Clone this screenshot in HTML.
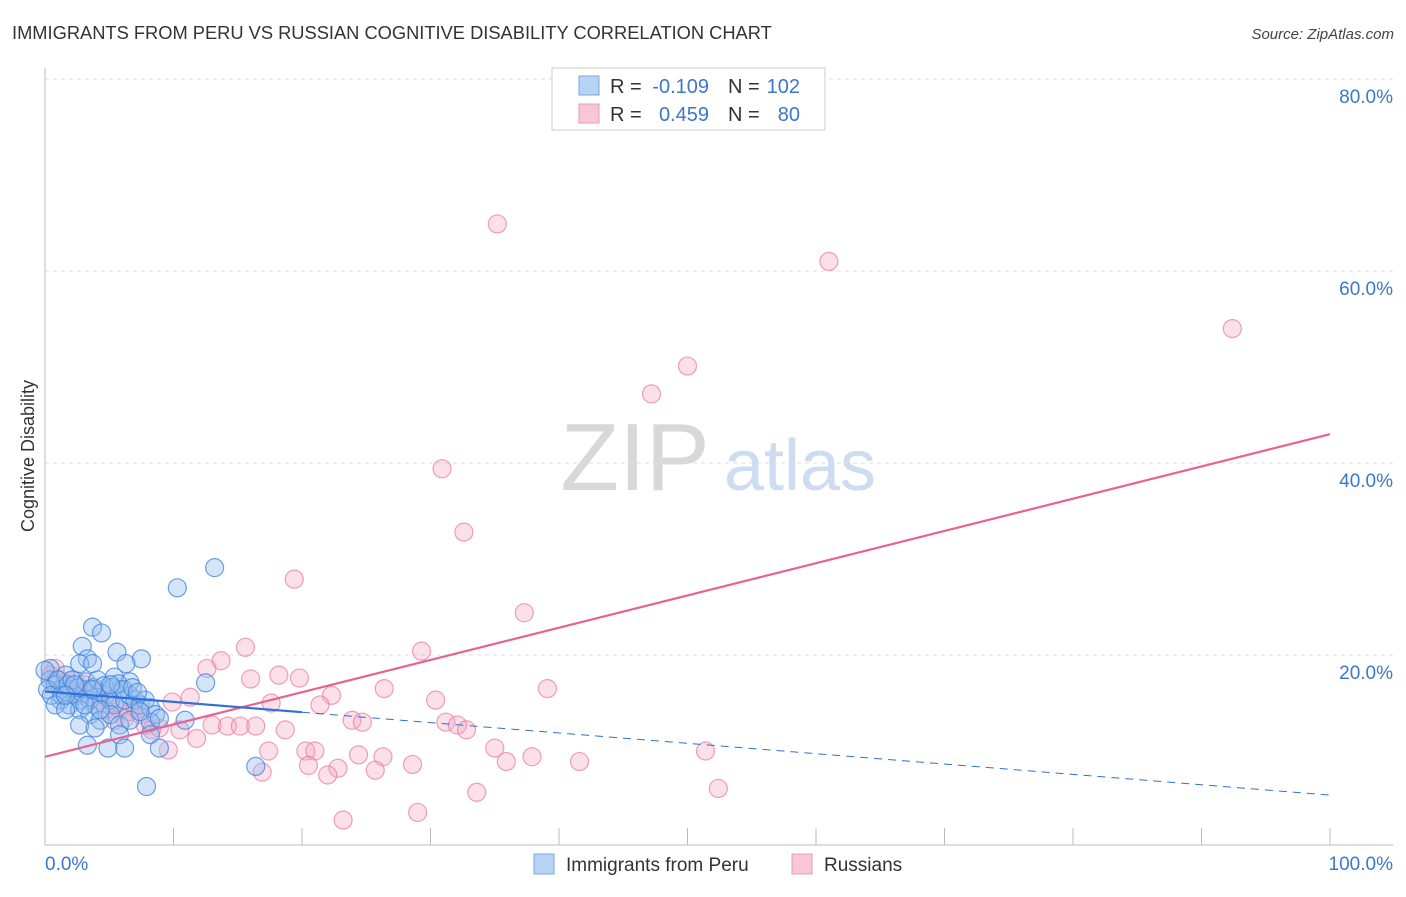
<!DOCTYPE html>
<html><head><meta charset="utf-8"><style>
body{margin:0;background:#fff;font-family:"Liberation Sans",sans-serif;}
svg text{font-family:"Liberation Sans",sans-serif;}
</style></head><body>
<svg id="chart" width="1406" height="892" xmlns="http://www.w3.org/2000/svg">
<text x="12" y="39" font-size="18.3" fill="#333">IMMIGRANTS FROM PERU VS RUSSIAN COGNITIVE DISABILITY CORRELATION CHART</text>
<text x="1394" y="39" font-size="15" font-style="italic" fill="#444" text-anchor="end">Source: ZipAtlas.com</text>
<g>
<text x="635" y="490" font-size="96" font-family="Liberation Serif" fill="#d8d8d8" text-anchor="middle">ZIP</text>
<text x="800" y="490" font-size="72" fill="#cddcf0" text-anchor="middle">atlas</text>
</g>
<g id="grid"></g>
<g id="axes"></g>
<g id="pts"></g>
<g id="trends"></g>
<text transform="translate(34,456) rotate(-90)" font-size="18" fill="#333" text-anchor="middle">Cognitive Disability</text>
<g>
<rect x="552" y="68" width="273" height="62" fill="#fff" stroke="#ccc"/>
<rect x="579" y="76" width="20" height="19" fill="#b7d3f5" stroke="#7aa7e0"/>
<rect x="579" y="104" width="20" height="19" fill="#f9c6d6" stroke="#eb9ab4"/>
<text x="610" y="93" font-size="20" fill="#333">R =</text>
<text x="709" y="93" font-size="20" fill="#3b76d0" text-anchor="end">-0.109</text>
<text x="728" y="93" font-size="20" fill="#333">N =</text>
<text x="800" y="93" font-size="20" fill="#3b76d0" text-anchor="end">102</text>
<text x="610" y="121" font-size="20" fill="#333">R =</text>
<text x="709" y="121" font-size="20" fill="#3b76d0" text-anchor="end">0.459</text>
<text x="728" y="121" font-size="20" fill="#333">N =</text>
<text x="800" y="121" font-size="20" fill="#3b76d0" text-anchor="end">80</text>
</g>
<g>
<rect x="534" y="854" width="20" height="20" fill="#b7d3f5" stroke="#7aa7e0"/>
<text x="566" y="871" font-size="19" fill="#333">Immigrants from Peru</text>
<rect x="792" y="854" width="20" height="20" fill="#f9c6d6" stroke="#eb9ab4"/>
<text x="824" y="871" font-size="19" fill="#333">Russians</text>
</g>
</svg>
<script>
const yTicks=[20,40,60,80];
const yTickLabels=["20.0%","40.0%","60.0%","80.0%"];
const xTicks=[10,20,30,40,50,60,70,80,90,100];
const xEndLabels=["0.0%","100.0%"];
const peruX=[10.3,13.2,3.7,4.4,2.9,5.6,7.5,3.3,2.7,3.7,6.3,5.4,6.6,12.5,0.4,0.4,0.8,1.2,1.6,1.9,2.3,2.7,3.1,3.5,3.9,4.3,4.7,5.1,5.4,5.8,6.2,6.6,7.0,7.4,7.8,8.2,8.6,1.2,1.9,2.7,3.5,4.3,5.1,5.8,6.6,8.2,8.9,10.9,2.7,3.9,5.8,8.2,3.3,4.9,6.2,8.9,16.4,7.9,0,0.2,0.5,1.0,1.3,1.8,2.1,2.6,3.2,3.8,4.1,4.6,5.2,5.7,6.1,6.8,7.2,0.8,1.6,2.3,3.1,4.3,5.1,7.4,3.7,1.6];
const peruY=[27.0,29.1,22.9,22.3,20.9,20.3,19.6,19.6,19.1,19.1,19.1,17.7,17.2,17.1,18.6,17.4,16.9,16.4,17.9,16.4,15.8,15.3,16.4,15.3,14.8,16.1,15.8,15.3,14.8,16.4,15.3,15.8,15.3,14.8,15.3,14.5,13.8,15.3,14.8,14.3,13.8,13.2,13.8,12.7,13.2,13.0,13.4,13.2,12.7,12.4,11.7,11.7,10.6,10.3,10.3,10.3,8.4,6.3,18.4,16.4,15.8,17.4,15.8,16.9,17.4,16.6,17.2,16.6,17.4,16.8,16.6,17.0,16.4,16.6,16.1,14.8,14.3,16.9,14.8,14.3,16.9,14.1,16.4,15.8];
const rusX=[35.2,61.0,92.4,50.0,47.2,30.9,32.6,19.4,37.3,15.6,29.3,13.7,12.6,18.2,19.8,16.0,26.4,39.1,22.3,11.3,9.9,30.4,17.6,21.4,23.9,24.7,31.2,32.1,32.8,13.0,14.2,15.2,16.4,10.5,11.8,18.7,8.3,8.9,17.4,20.3,21.0,24.4,26.3,35.0,51.4,37.9,41.6,28.6,35.9,20.5,22.8,25.7,22.0,16.9,52.4,33.6,29.0,23.2,9.6,0.8,1.2,1.6,1.9,2.3,2.7,3.1,3.5,4.3,5.1,5.8,6.6,7.4,7.8,5.4,6.2,7.0,0.4,3.9,4.7];
const rusY=[64.9,61.0,54.0,50.1,47.2,39.4,32.8,27.9,24.4,20.8,20.4,19.4,18.6,17.9,17.6,17.5,16.5,16.5,15.8,15.6,15.1,15.3,15.0,14.8,13.2,13.0,13.0,12.7,12.2,12.7,12.6,12.6,12.6,12.2,11.3,12.2,12.2,12.4,10.0,10.0,10.0,9.6,9.4,10.3,10.0,9.4,8.9,8.6,8.9,8.5,8.2,8.0,7.5,7.8,6.1,5.7,3.6,2.8,10.1,18.6,17.4,16.9,16.4,17.4,15.8,16.9,16.4,15.3,14.8,14.3,14.1,13.8,12.7,13.2,13.4,14.5,17.9,15.8,14.3];
const peruTrend=[16.2,5.4];
const peruSolidEnd=20;
const rusTrend=[9.4,43.0];
const NS="http://www.w3.org/2000/svg";
const sx=v=>45+v*12.85, sy=v=>847-v*9.6;
function mk(tag,attrs,parent){const e=document.createElementNS(NS,tag);for(const k in attrs)e.setAttribute(k,attrs[k]);parent.appendChild(e);return e;}
const grid=document.getElementById('grid'),axes=document.getElementById('axes'),pts=document.getElementById('pts'),tr=document.getElementById('trends');
yTicks.forEach((t,i)=>{
 const l=mk('line',{x1:45,x2:1393,y1:sy(t),y2:sy(t),stroke:'#ddd','stroke-dasharray':'4,4'},grid);
 
 
 const tx=mk('text',{x:1393,y:sy(t)+24,'font-size':19,fill:'#3b76d0','text-anchor':'end'},axes);
 tx.textContent=yTickLabels[i];
 
 
});
let a=mk('line',{x1:45,x2:45,y1:68,y2:845,stroke:'#bbb'},axes);


a=mk('line',{x1:45,x2:1393,y1:845,y2:845,stroke:'#bbb'},axes);


xTicks.forEach(t=>{
 const l=mk('line',{x1:sx(t),x2:sx(t),y1:828,y2:845,stroke:'#bbb'},axes);
 
 
});
let xl=mk('text',{x:45,y:870,'font-size':19,fill:'#3b76d0'},axes);xl.textContent=xEndLabels[0];


xl=mk('text',{x:1393,y:870,'font-size':19,fill:'#3b76d0','text-anchor':'end'},axes);xl.textContent=xEndLabels[1];


rusX.forEach((x,i)=>{
 const c=mk('circle',{cx:sx(x),cy:sy(rusY[i]),r:9,fill:'rgba(244,166,192,0.35)',stroke:'rgba(232,120,160,0.7)','stroke-width':1.2},pts);
 
 
});
peruX.forEach((x,i)=>{
 const c=mk('circle',{cx:sx(x),cy:sy(peruY[i]),r:9,fill:'rgba(150,190,240,0.4)',stroke:'rgba(60,130,220,0.75)','stroke-width':1.2},pts);
 
 
});
const py=x=>peruTrend[0]+(peruTrend[1]-peruTrend[0])*x/100;
let t=mk('line',{x1:sx(0),y1:sy(rusTrend[0]),x2:sx(100),y2:sy(rusTrend[1]),stroke:'#e8628f','stroke-width':2.2},tr);


t=mk('line',{x1:sx(0),y1:sy(py(0)),x2:sx(peruSolidEnd),y2:sy(py(peruSolidEnd)),stroke:'#2f6fd6','stroke-width':2.2},tr);


t=mk('line',{x1:sx(peruSolidEnd),y1:sy(py(peruSolidEnd)),x2:sx(100),y2:sy(py(100)),stroke:'#2f6fd6','stroke-width':1,'stroke-dasharray':'8,6'},tr);


</script>
</body></html>
